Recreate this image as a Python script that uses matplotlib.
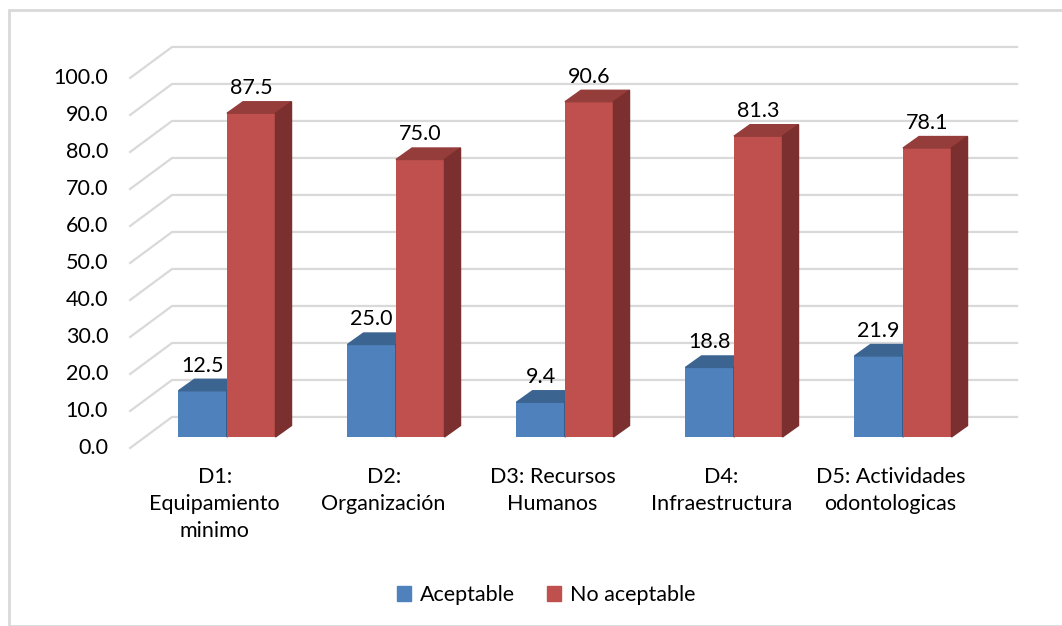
import matplotlib
matplotlib.use("Agg")
import matplotlib.pyplot as plt
from matplotlib.patches import Polygon, Rectangle

plt.rcParams["font.family"] = ["Lato", "DejaVu Sans"]

# data
categories = ["D1:\nEquipamiento\nminimo", "D2:\nOrganización", "D3: Recursos\nHumanos",
              "D4:\nInfraestructura", "D5: Actividades\nodontologicas"]
aceptable = [12.5, 25.0, 9.4, 18.8, 21.9]
no_aceptable = [87.5, 75.0, 90.6, 81.3, 78.1]
series_names = ["Aceptable", "No aceptable"]
yticks = [0, 10, 20, 30, 40, 50, 60, 70, 80, 90, 100]

# colours (front, top, side)
BLUE = ("#4f81bd", "#3c6491", "#2f5078")
RED = ("#c0504d", "#953d3b", "#7b2f2e")
GRID = "#d9d9d9"

# oblique "3D" geometry, in data units
W = 0.287               # bar width (category units)
DEPTH = (0.095, 3.1)    # bar depth offset (dx, dy)
FRONT = (-0.088, -2.97)  # front plane offset from bar plane
BACK = (0.16, 5.41)     # back wall offset from bar plane
FS = 15.5

fig = plt.figure(figsize=(10.62, 6.26), dpi=100)
ax = fig.add_axes([0, 0, 1, 1])
ax.set_xlim(-1.358, 4.926)
ax.set_ylim(-51.08, 118.1)
ax.axis("off")

# outer chart border
fig.patches.append(Rectangle((8.5 / 1062, 0), 2, 1 - 9.5 / 626, transform=fig.transFigure,
                             fill=False, edgecolor=GRID, lw=2, clip_on=False))

# gridlines: diagonal on the side wall, then flat across the back wall
x0, x1 = -0.5, 4.5
for v in yticks:
    ax.plot([x0 + FRONT[0], x0 + BACK[0], x1 + BACK[0]],
            [v + FRONT[1], v + BACK[1], v + BACK[1]], color=GRID, lw=1.6, zorder=1)
    ax.annotate(f"{v:.1f}", (x0 + FRONT[0], v + FRONT[1]), xytext=(-22, 0),
                textcoords="offset pixels", ha="right", va="center", fontsize=FS)


def bar3d(xl, h, cols):
    dx, dy = DEPTH
    ax.bar(xl, h, width=W, align="edge", color=cols[0], zorder=3)
    ax.add_patch(Polygon([(xl, h), (xl + dx, h + dy), (xl + W + dx, h + dy), (xl + W, h)],
                         closed=True, color=cols[1], zorder=3))
    ax.add_patch(Polygon([(xl + W, 0), (xl + W, h), (xl + W + dx, h + dy), (xl + W + dx, dy)],
                         closed=True, color=cols[2], zorder=3))


for i, (a, n) in enumerate(zip(aceptable, no_aceptable)):
    c = i - 0.015
    bar3d(c - W, a, BLUE)
    bar3d(c, n, RED)
    for xc, v in [(c - W / 2, a), (c + W / 2, n)]:
        ax.annotate(f"{v:.1f}", (xc, v), xytext=(0, 25), textcoords="offset pixels",
                    ha="center", va="center", fontsize=FS, zorder=5)
    ax.annotate(categories[i], (i + FRONT[0], FRONT[1]), xytext=(0, -19),
                textcoords="offset pixels", ha="center", va="top", fontsize=FS,
                linespacing=1.45)

handles = [Rectangle((0, 0), 1, 1, color=BLUE[0]), Rectangle((0, 0), 1, 1, color=RED[0])]
fig.legend(handles, series_names, loc="center", bbox_to_anchor=(546 / 1062, 1 - 595 / 626),
           ncol=2, frameon=False, fontsize=FS, handlelength=0.65, handleheight=0.65,
           handletextpad=0.4, columnspacing=1.5)

fig.savefig("out.png", dpi=100)
